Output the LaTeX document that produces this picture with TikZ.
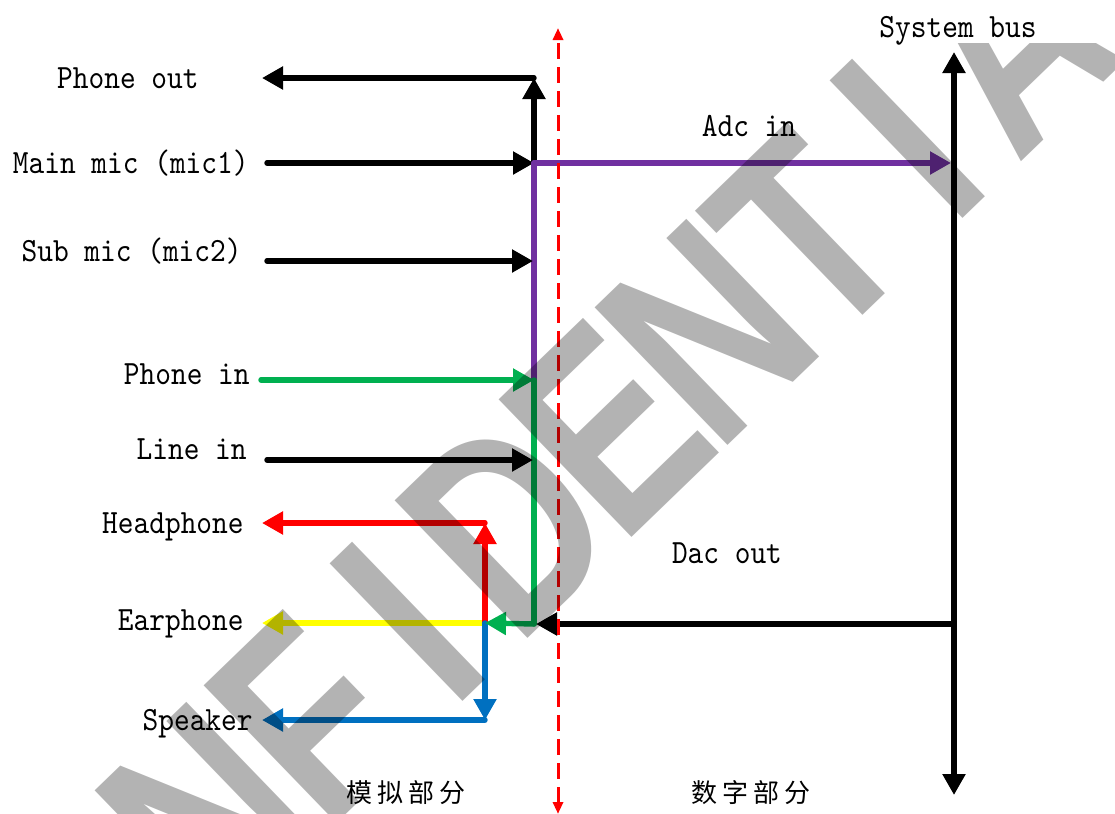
\documentclass[tikz,border=0pt]{standalone}
\usepackage{fontspec}
\usetikzlibrary{arrows.meta}
\newfontfamily\lblfont{lmmono10-regular.otf}[FakeStretch=0.88]
\newfontfamily\cjkfont{Noto Sans CJK SC}
\newfontfamily\wmfont{Liberation Sans Bold}[FakeStretch=0.78]
\definecolor{adcviolet}{HTML}{7030A0}
\definecolor{ingreen}{HTML}{00B050}
\definecolor{hpred}{HTML}{FF0000}
\definecolor{epyellow}{HTML}{FFFF00}
\definecolor{spblue}{HTML}{0070C0}
\definecolor{wmgray}{HTML}{B3B3B3}

\begin{document}
\begin{tikzpicture}[x=0.5pt,y=-0.5pt,font={\lblfont\fontsize{17pt}{20pt}\selectfont},
    wire/.style={line width=2.7pt,line cap=round},
    tip/.style={-{Triangle[length=10.5pt,width=11pt]}},
    lbl/.style={anchor=base east,inner sep=0pt}]
        \useasboundingbox (0,0) rectangle (1115,814);
        \coordinate (poC) at (534,78);
        \coordinate (poE) at (262,78);
        \coordinate (mmJ) at (534,163);
        \coordinate (mmS) at (267,163);
        \coordinate (smJ) at (533,261);
        \coordinate (smS) at (267,261);
        \coordinate (piJ) at (534,380);
        \coordinate (piS) at (261,380);
        \coordinate (liJ) at (533,460);
        \coordinate (liS) at (267,460);
        \coordinate (dacJ) at (534,624);
        \coordinate (dacB) at (954,624);
        \coordinate (epJ) at (485,623);
        \coordinate (epE) at (262,623);
        \coordinate (hpC) at (485,523);
        \coordinate (hpE) at (262,523);
        \coordinate (spC) at (485,720);
        \coordinate (spE) at (262,720);
        \coordinate (adcB) at (951,163);
        \coordinate (busT) at (954,52);
        \coordinate (busB) at (954,795);
        \coordinate (divT) at (558,28);
        \coordinate (divB) at (558,814);
        \draw[wire,tip] (mmJ) -- (poC);
        \draw[wire,tip] (poC) -- (poE);
        \draw[wire,tip] (mmS) -- (mmJ);
        \draw[wire,adcviolet,tip] (mmJ) -- (adcB);
        \draw[wire,adcviolet] (mmJ) -- (piJ);
        \draw[wire,tip] (smS) -- (smJ);
        \draw[wire,ingreen,tip] (piS) -- (piJ);
        \draw[wire,ingreen] (piJ) -- (dacJ);
        \draw[wire,tip] (liS) -- (liJ);
        \draw[wire,epyellow,tip] (epJ) -- (epE);
        \draw[wire,hpred,tip] (epJ) -- (hpC);
        \draw[wire,hpred,tip] (hpC) -- (hpE);
        \draw[wire,spblue,tip] (epJ) -- (spC);
        \draw[wire,spblue,tip] (spC) -- (spE);
        \draw[wire,ingreen,tip] (dacJ) -- (epJ);
        \draw[wire,tip,shorten >=1pt] (dacB) -- (dacJ);
        \draw[wire,{Triangle[length=10.5pt,width=11pt]}-{Triangle[length=10.5pt,width=11pt]}] (busB) -- (busT);
        \draw[hpred,line width=1.5pt,dash pattern=on 8pt off 4pt,
          {Triangle[length=6pt,width=5pt]}-{Triangle[length=6pt,width=5pt]}] (divB) -- (divT);
        \node[lbl] (phoneout) at (199,88) {Phone out};
        \node[lbl] (mainmic) at (249,173) {Main mic (mic1)};
        \node[lbl] (submic) at (242,261) {Sub mic (mic2)};
        \node[lbl] (phonein) at (250,384) {Phone in};
        \node[lbl] (linein) at (247,459) {Line in};
        \node[lbl] (headphone) at (244,533) {Headphone};
        \node[lbl] (earphone) at (244,630) {Earphone};
        \node[lbl] (speaker) at (253,730) {Speaker};
        \node[anchor=base] (adcin) at (749,136) {Adc in};
        \node[anchor=base] (dacout) at (727,563) {Dac out};
        \node[anchor=base] (sysbus) at (958,37) {System bus};
        \node[font={\cjkfont\fontsize{13pt}{13pt}\selectfont}] (analog) at (406,793)
          {模\hspace{2.5pt}拟\hspace{2.5pt}部\hspace{2.5pt}分};
        \node[font={\cjkfont\fontsize{13pt}{13pt}\selectfont}] (digital) at (751,793)
          {数\hspace{2.5pt}字\hspace{2.5pt}部\hspace{2.5pt}分};
        \begin{scope}[blend mode=multiply]
          \clip (0,43) rectangle (1115,814);
          \foreach \ch [count=\i from -5] in {C,O,N,F,I,D,E,N,T,I,A,L}
            \node[wmgray,font={\wmfont\fontsize{139pt}{139pt}\selectfont},inner sep=0pt,
              anchor=base,rotate=44] (wm\i) at ({574+100*\i},{594-96.6*\i}) {\ch};
        \end{scope}
      \end{tikzpicture}
\end{document}
